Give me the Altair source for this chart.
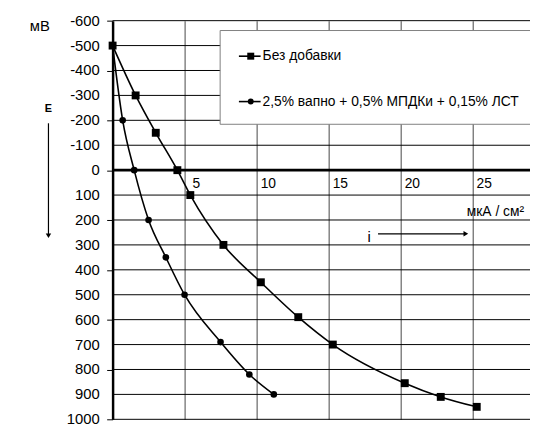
import altair as alt
import pandas as pd

series_names = ["Без добавки", "2,5% вапно + 0,5% МПДКи + 0,15% ЛСТ"]
x1 = [0, 1.6, 3.0, 4.5, 5.4, 7.7, 10.3, 12.9, 15.3, 20.3, 22.8, 25.3]
y1 = [-500, -300, -150, 0, 100, 300, 450, 590, 700, 855, 910, 950]
x2 = [0, 0.7, 1.5, 2.5, 3.7, 5.0, 7.5, 9.5, 11.2]
y2 = [-500, -200, 0, 200, 350, 500, 690, 820, 900]
y_ticks = list(range(-600, 1001, 100))
x_ticks = [5, 10, 15, 20, 25]
y_unit = "мВ"
x_unit = "мкА / см²"
e_label = "E"
i_label = "i"

FONT = "Liberation Sans"

df = pd.DataFrame({
    "x": x1 + x2,
    "y": y1 + y2,
    "series": [series_names[0]] * len(x1) + [series_names[1]] * len(x2),
})

xscale = alt.Scale(domain=[0, 29], nice=False, zero=False)
yscale = alt.Scale(domain=[-600, 1000], reverse=True, nice=False, zero=False)

xaxis = alt.Axis(values=x_ticks, labels=False, ticks=False, domain=False,
                 grid=True, gridColor="#7a7a7a", gridWidth=1.4, title=None)
yaxis = alt.Axis(values=y_ticks, labels=False, grid=False,
                 domainColor="#000000",
                 domainWidth=2.5, tickColor="#000000", tickSize=6, tickWidth=1,
                 title=None)

shape_scale = alt.Scale(domain=series_names, range=["square", "circle"])
size_scale = alt.Scale(domain=series_names, range=[64, 45])

ytick_df = pd.DataFrame({"y": y_ticks})

hgrid = alt.Chart(ytick_df).mark_rule(
    color="black", strokeWidth=1).encode(y=alt.Y("y:Q", scale=yscale, axis=yaxis))

ylabels = alt.Chart(ytick_df).transform_calculate(
    lab="'' + datum.y").mark_text(
    align="right", baseline="middle", fontSize=15, font=FONT, color="black").encode(
    x=alt.value(-13), y=alt.Y("y:Q", scale=yscale), text="lab:N")

lines = alt.Chart(df).mark_line(color="black", strokeWidth=1.6,
                                interpolate="monotone").encode(
    x=alt.X("x:Q", scale=xscale, axis=xaxis),
    y=alt.Y("y:Q", scale=yscale, axis=yaxis),
    detail="series:N",
)

points = alt.Chart(df).mark_point(filled=True, color="black", opacity=1).encode(
    x=alt.X("x:Q", scale=xscale),
    y=alt.Y("y:Q", scale=yscale),
    shape=alt.Shape("series:N", scale=shape_scale, legend=None),
    size=alt.Size("series:N", scale=size_scale, legend=None),
)

zero_rule = alt.Chart(pd.DataFrame({"y": [0]})).mark_rule(
    color="black", strokeWidth=2.8).encode(y=alt.Y("y:Q", scale=yscale))

xlabels = alt.Chart(pd.DataFrame({"x": x_ticks})).transform_calculate(
    lab="'' + datum.x").mark_text(
    align="center", baseline="middle", dx=12, dy=14, fontSize=14,
    font=FONT, color="black").encode(
    x=alt.X("x:Q", scale=xscale), y=alt.datum(0), text="lab:N")

dummy = pd.DataFrame({"a": [0]})

def txt(t, x, y, size=14, align="left", bold=False):
    return alt.Chart(dummy).mark_text(
        align=align, baseline="middle", fontSize=size, font=FONT,
        color="black", fontWeight="bold" if bold else "normal").encode(
        x=alt.value(x), y=alt.value(y), text=alt.value(t))

def rule(x, y, x2, y2, w=1.2):
    return alt.Chart(dummy).mark_rule(color="black", strokeWidth=w).encode(
        x=alt.value(x), y=alt.value(y), x2=alt.value(x2), y2=alt.value(y2))

def marker(shape, x, y, size):
    return alt.Chart(dummy).mark_point(shape=shape, filled=True, color="black",
                                       opacity=1, size=size).encode(
        x=alt.value(x), y=alt.value(y))

legend_box = alt.Chart(dummy).mark_rect(fill="white", stroke="#7f7f7f",
                                        strokeWidth=1).encode(
    x=alt.value(109), x2=alt.value(440), y=alt.value(10), y2=alt.value(105))

legend = [
    legend_box,
    rule(128, 36, 150, 36, 1.6), marker("square", 140, 36, 50),
    txt(series_names[0], 152, 36),
    rule(128, 82, 150, 82, 1.6), marker("circle", 140, 82, 36),
    txt(series_names[1], 152, 82),
]

annotations = [
    txt(y_unit, -84, 5, 15),
    txt(e_label, -65, 90, 11, align="center", bold=True),
    rule(-65, 104, -65, 218, 1.2),
    marker("triangle-down", -65, 218, 30),
    txt(i_label, 260, 219, 15, align="center"),
    rule(269, 216, 358, 216, 1.2),
    marker("triangle-right", 358, 216, 30),
    txt(x_unit, 359, 194, 14),
]

chart = alt.layer(hgrid, ylabels, zero_rule, lines, points, xlabels,
                  *legend, *annotations).properties(
    width=423, height=404,
    autosize=alt.AutoSizeParams(type="none"),
    padding={"left": 106, "top": 10, "right": 0, "bottom": 8},
).configure_view(stroke=None)

chart.save("out.html", embed_options={"renderer": "svg", "actions": False})
